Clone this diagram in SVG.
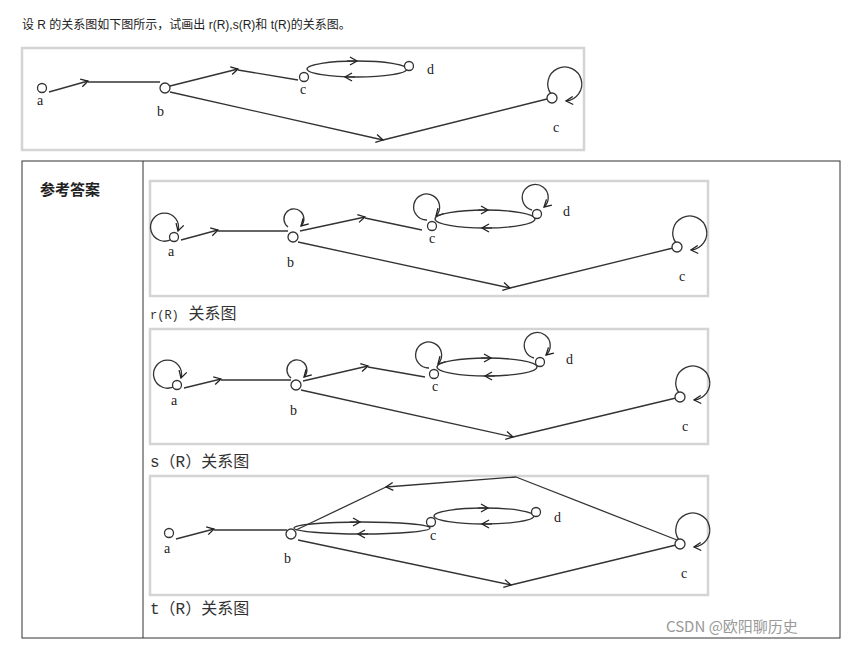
<svg xmlns="http://www.w3.org/2000/svg" width="852" height="645" viewBox="0 0 852 645">
<defs>
<marker id="ar" markerWidth="10" markerHeight="10" refX="8" refY="5" orient="auto" markerUnits="userSpaceOnUse"><path d="M1,1 L8,5 L1,9" fill="none" stroke="#222" stroke-width="1.3"/></marker>
</defs>
<style>
.e{fill:none;stroke:#333;stroke-width:1.3}
.n{fill:#fff;stroke:#333;stroke-width:1.3}
.l{font-family:"Liberation Serif",serif;font-size:14px;fill:#222}
.fr{fill:#fff;stroke:#d4d4d4;stroke-width:2.5}
.cap{font-family:"Liberation Mono","Noto Sans CJK SC",monospace;font-size:16px;fill:#333}
</style>
<rect width="852" height="645" fill="#fff"/>
<text x="22" y="29" font-family="Liberation Sans,Noto Sans CJK SC,sans-serif" font-size="12" fill="#222">设 R 的关系图如下图所示，试画出 r(R),s(R)和 t(R)的关系图。</text>

<g id="R">
<rect class="fr" x="22" y="48" width="562" height="102"/>
<g class="connectors">
<path class="e" d="M49,92 L88,81" marker-end="url(#ar)"/><path class="e" d="M88,82 L160,82"/>
<path class="e" d="M170,86 L238,69" marker-end="url(#ar)"/><path class="e" d="M238,70 L298,80"/>
<ellipse class="e" cx="357" cy="69" rx="50" ry="8"/>
<path class="e" d="M347,61 L357,61" marker-end="url(#ar)"/><path class="e" d="M355,77 L345,77" marker-end="url(#ar)"/>
<path class="e" d="M170,92 L383,140" marker-end="url(#ar)"/><path class="e" d="M383,140 L547,99"/>
<path class="e" d="M551,94 A17,17 0 1 1 566,101" marker-end="url(#ar)"/>
</g>
<circle class="n" cx="42" cy="88" r="4.5"/><circle class="n" cx="165" cy="88" r="5"/><circle class="n" cx="304" cy="77" r="4.5"/><circle class="n" cx="409" cy="66" r="4.5"/><circle class="n" cx="552" cy="98" r="5"/>
<text class="l" x="37" y="105">a</text><text class="l" x="157" y="116">b</text><text class="l" x="300" y="94">c</text><text class="l" x="427" y="74">d</text><text class="l" x="553" y="132">c</text>
</g>

<rect x="22" y="161" width="818" height="477" fill="none" stroke="#333" stroke-width="1"/>
<line x1="143" y1="161" x2="143" y2="638" stroke="#333"/>
<text x="40" y="195" font-family="Noto Sans CJK SC,sans-serif" font-weight="bold" font-size="15" fill="#222">参考答案</text>

<g id="rR">
<rect class="fr" x="150" y="181" width="558" height="115"/>
<g class="connectors">
<path class="e" d="M172,239 A14,14 0 1 1 178,231" marker-end="url(#ar)"/>
<path class="e" d="M181,240 L218,230" marker-end="url(#ar)"/><path class="e" d="M218,231 L288,231"/>
<path class="e" d="M288,227 A10,10 0 1 1 301,226" marker-end="url(#ar)"/>
<path class="e" d="M300,231 L365,217" marker-end="url(#ar)"/><path class="e" d="M365,218 L422,230"/>
<path class="e" d="M427,220 A13,13 0 1 1 436,216" marker-end="url(#ar)"/>
<ellipse class="e" cx="485" cy="219" rx="50" ry="9"/>
<path class="e" d="M478,210 L488,210" marker-end="url(#ar)"/><path class="e" d="M492,228 L482,228" marker-end="url(#ar)"/>
<path class="e" d="M532,210 A13,13 0 1 1 544,207" marker-end="url(#ar)"/>
<path class="e" d="M298,242 L510,288" marker-end="url(#ar)"/><path class="e" d="M510,288 L673,248"/>
<path class="e" d="M676,243 A17,17 0 1 1 691,250" marker-end="url(#ar)"/>
</g>
<circle class="n" cx="174" cy="237" r="4.5"/><circle class="n" cx="293" cy="237" r="5"/><circle class="n" cx="432" cy="226" r="4.5"/><circle class="n" cx="537" cy="214" r="4.5"/><circle class="n" cx="677" cy="247" r="5"/>
<text class="l" x="168" y="256">a</text><text class="l" x="287" y="267">b</text><text class="l" x="429" y="243">c</text><text class="l" x="563" y="216">d</text><text class="l" x="679" y="281">c</text>
</g>
<text class="cap" x="150" y="319"><tspan font-size="12">r(R)</tspan>  关系图</text>

<g id="sR">
<rect class="fr" x="150" y="329" width="558" height="115"/>
<g class="connectors">
<path class="e" d="M175,386 A14,14 0 1 1 181,378" marker-end="url(#ar)"/>
<path class="e" d="M184,388 L221,379" marker-end="url(#ar)"/><path class="e" d="M221,380 L291,380"/>
<path class="e" d="M291,378 A10,10 0 1 1 304,377" marker-end="url(#ar)"/>
<path class="e" d="M303,381 L368,366" marker-end="url(#ar)"/><path class="e" d="M368,367 L425,377"/>
<path class="e" d="M429,368 A13,13 0 1 1 438,364" marker-end="url(#ar)"/>
<ellipse class="e" cx="487" cy="367" rx="50" ry="9"/>
<path class="e" d="M481,358 L491,358" marker-end="url(#ar)"/><path class="e" d="M495,376 L485,376" marker-end="url(#ar)"/>
<path class="e" d="M534,358 A13,13 0 1 1 546,355" marker-end="url(#ar)"/>
<path class="e" d="M301,390 L513,437" marker-end="url(#ar)"/><path class="e" d="M513,437 L676,398"/>
<path class="e" d="M679,393 A17,17 0 1 1 694,400" marker-end="url(#ar)"/>
</g>
<circle class="n" cx="177" cy="385" r="4.5"/><circle class="n" cx="296" cy="385" r="5"/><circle class="n" cx="434" cy="374" r="4.5"/><circle class="n" cx="540" cy="362" r="4.5"/><circle class="n" cx="680" cy="397" r="5"/>
<text class="l" x="171" y="405">a</text><text class="l" x="290" y="415">b</text><text class="l" x="432" y="391">c</text><text class="l" x="566" y="364">d</text><text class="l" x="682" y="431">c</text>
</g>
<text class="cap" x="150" y="467">s（R）关系图</text>

<g id="tR">
<rect class="fr" x="150" y="476" width="558" height="119"/>
<g class="connectors">
<path class="e" d="M176,539 L214,529" marker-end="url(#ar)"/><path class="e" d="M214,530 L287,530"/>
<path class="e" d="M296,530 L386,487"/><path class="e" d="M516,477 L386,487" marker-end="url(#ar)"/>
<path class="e" d="M516,477 L677,540"/>
<ellipse class="e" cx="362" cy="528" rx="68" ry="6"/>
<path class="e" d="M350,522 L360,522" marker-end="url(#ar)"/><path class="e" d="M368,534 L358,534" marker-end="url(#ar)"/>
<ellipse class="e" cx="484" cy="516" rx="50" ry="8"/>
<path class="e" d="M478,508 L488,508" marker-end="url(#ar)"/><path class="e" d="M492,524 L482,524" marker-end="url(#ar)"/>
<path class="e" d="M298,540 L511,585" marker-end="url(#ar)"/><path class="e" d="M511,585 L676,545"/>
<path class="e" d="M679,540 A17,17 0 1 1 694,547" marker-end="url(#ar)"/>
</g>
<circle class="n" cx="169" cy="533" r="4.5"/><circle class="n" cx="291" cy="534" r="5"/><circle class="n" cx="431" cy="522" r="4.5"/><circle class="n" cx="536" cy="512" r="4.5"/><circle class="n" cx="680" cy="544" r="5"/>
<text class="l" x="164" y="553">a</text><text class="l" x="284" y="563">b</text><text class="l" x="430" y="540">c</text><text class="l" x="554" y="522">d</text><text class="l" x="681" y="578">c</text>
</g>
<text class="cap" x="150" y="614">t（R）关系图</text>
<text x="666" y="632" font-family="Noto Sans CJK SC,sans-serif" font-size="15" fill="#999">CSDN @欧阳聊历史</text>
</svg>
